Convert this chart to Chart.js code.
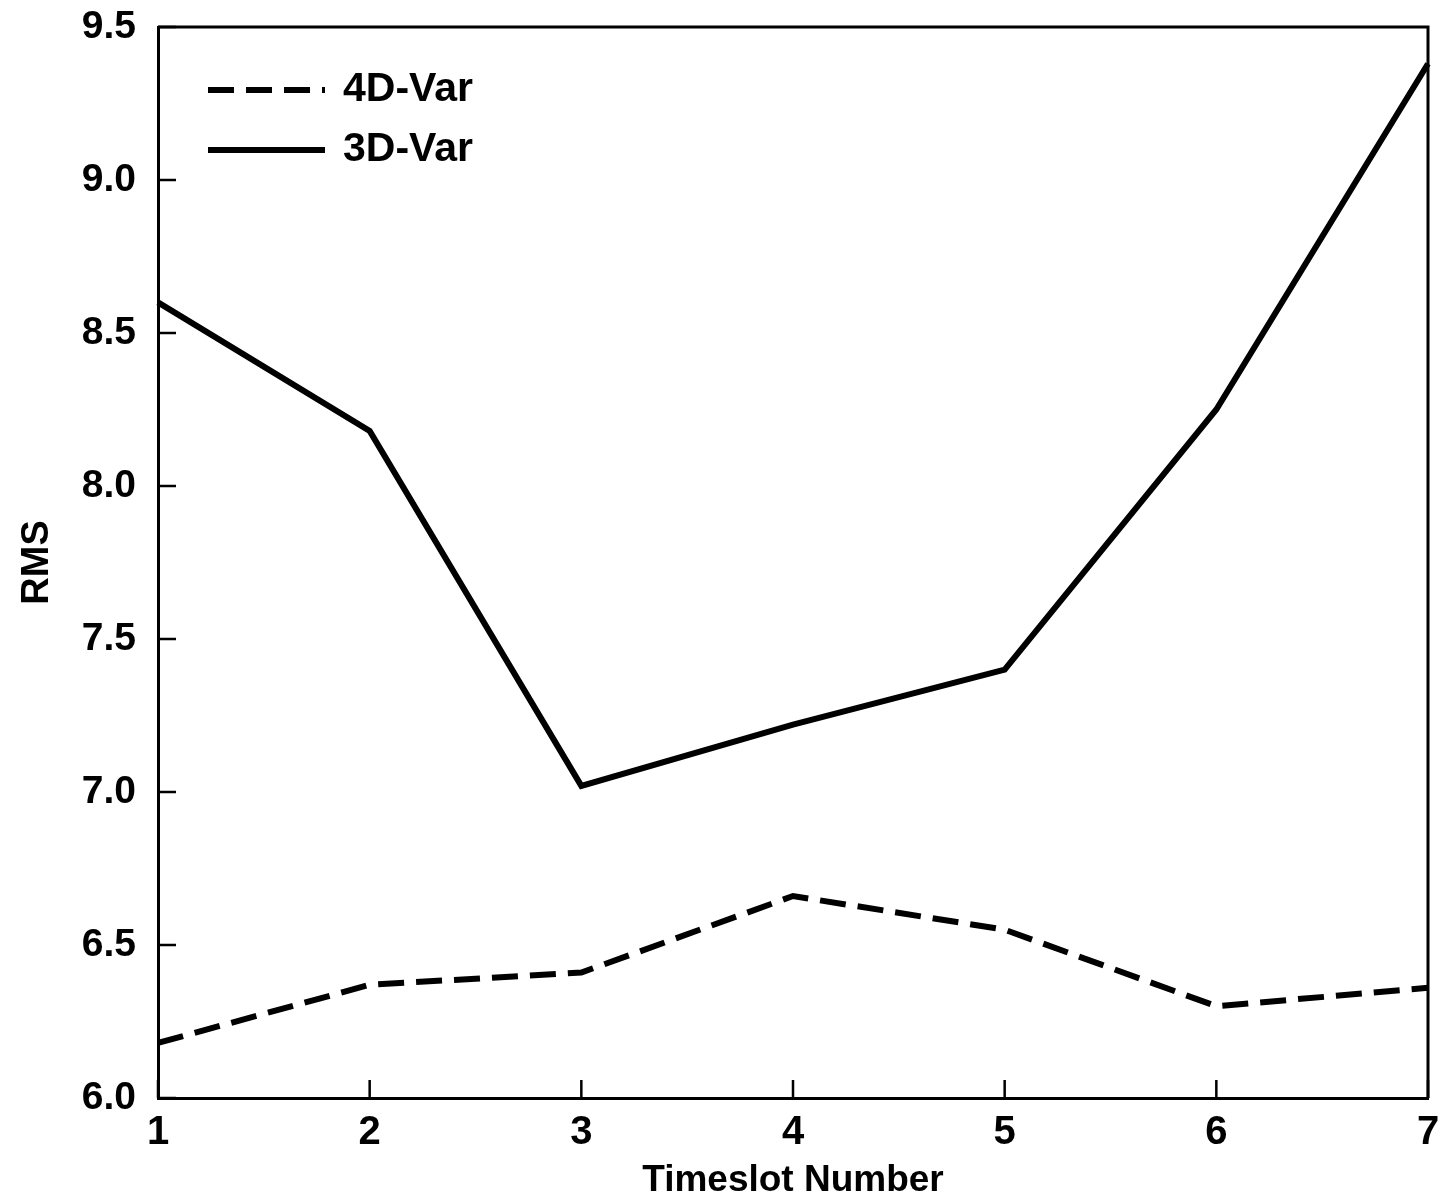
<!DOCTYPE html>
<html>
<head>
<meta charset="utf-8">
<script src="https://cdn.jsdelivr.net/npm/chart.js@4/dist/chart.umd.min.js"></script>
<style>
  html, body { margin: 0; padding: 0; background: #fff; }
  #wrap { width: 1443px; height: 1203px; }
</style>
</head>
<body>
<div id="wrap"><canvas id="rmsChart" width="1443" height="1203"></canvas></div>
<script>
const timeslots = ['1', '2', '3', '4', '5', '6', '7'];
const rms4dVar = [6.18, 6.37, 6.41, 6.66, 6.55, 6.30, 6.36];
const rms3dVar = [8.60, 8.18, 7.02, 7.22, 7.40, 8.25, 9.38];
const yTicks = [6.0, 6.5, 7.0, 7.5, 8.0, 8.5, 9.0, 9.5];

const FONT = "'Liberation Sans', Arial, sans-serif";

// box on top/right, inward tick marks, legend inside the plot
const framePlugin = {
    id: 'frame',
    afterDatasetsDraw(chart) {
        const ctx = chart.ctx;
        const area = chart.chartArea;
        const xs = chart.scales.x, ys = chart.scales.y;
        ctx.save();
        ctx.strokeStyle = '#000';
        ctx.lineWidth = 3;
        ctx.beginPath();
        ctx.moveTo(area.left, area.top);
        ctx.lineTo(area.right, area.top);
        ctx.lineTo(area.right, area.bottom);
        ctx.stroke();

        ctx.lineWidth = 2.5;
        ctx.beginPath();
        timeslots.forEach((t, i) => {
            const px = xs.getPixelForValue(i);
            ctx.moveTo(px, area.bottom);
            ctx.lineTo(px, area.bottom - 18);
        });
        yTicks.forEach(v => {
            const py = ys.getPixelForValue(v);
            ctx.moveTo(area.left, py);
            ctx.lineTo(area.left + 18, py);
        });
        ctx.stroke();

        // legend
        const items = chart.data.datasets.slice().reverse();
        ctx.font = 'bold 41px ' + FONT;
        ctx.textBaseline = 'middle';
        ctx.fillStyle = '#000';
        items.forEach((ds, i) => {
            const y = area.top + 63 + i * 60;
            ctx.lineWidth = ds.borderWidth;
            ctx.setLineDash(ds.borderDash || []);
            ctx.beginPath();
            ctx.moveTo(area.left + 50, y);
            ctx.lineTo(area.left + 167, y);
            ctx.stroke();
            ctx.setLineDash([]);
            ctx.fillText(ds.label, area.left + 185, y);
        });
        ctx.restore();
    }
};

new Chart(document.getElementById('rmsChart'), {
    type: 'line',
    data: {
        labels: timeslots,
        datasets: [
            {
                label: '3D-Var',
                data: rms3dVar,
                borderColor: '#000',
                borderWidth: 6,
                pointRadius: 0,
                tension: 0,
                fill: false
            },
            {
                label: '4D-Var',
                data: rms4dVar,
                borderColor: '#000',
                borderWidth: 6,
                borderDash: [26, 12],
                pointRadius: 0,
                tension: 0,
                fill: false
            }
        ]
    },
    options: {
        responsive: false,
        animation: false,
        devicePixelRatio: 1,
        layout: { padding: { left: 0, top: 27, right: 15, bottom: 0 } },
        plugins: {
            legend: { display: false },
            tooltip: { enabled: false }
        },
        scales: {
            x: {
                offset: false,
                grid: { display: false, drawTicks: false },
                border: { display: true, color: '#000', width: 3 },
                ticks: {
                    color: '#000',
                    padding: 11,
                    maxRotation: 0,
                    font: { family: FONT, size: 40, weight: 'bold' }
                },
                title: {
                    display: true,
                    text: 'Timeslot Number',
                    color: '#000',
                    padding: { top: 9, bottom: 0 },
                    font: { family: FONT, size: 37, weight: 'bold' }
                },
                afterFit(scale) {
                    scale.height = 105;
                    scale.paddingLeft = 0;
                    scale.paddingRight = 0;
                }
            },
            y: {
                min: 6.0,
                max: 9.5,
                grid: { display: false, drawTicks: false },
                border: { display: true, color: '#000', width: 3 },
                ticks: {
                    stepSize: 0.5,
                    color: '#000',
                    padding: 22,
                    font: { family: FONT, size: 39, weight: 'bold' },
                    callback: v => v.toFixed(1)
                },
                title: {
                    display: true,
                    text: 'RMS',
                    color: '#000',
                    padding: { top: 15, bottom: 0 },
                    font: { family: FONT, size: 38, weight: 'bold' }
                },
                afterFit(scale) {
                    scale.width = 158;
                    scale.paddingTop = 0;
                    scale.paddingBottom = 0;
                }
            }
        }
    },
    plugins: [framePlugin]
});
</script>
</body>
</html>
